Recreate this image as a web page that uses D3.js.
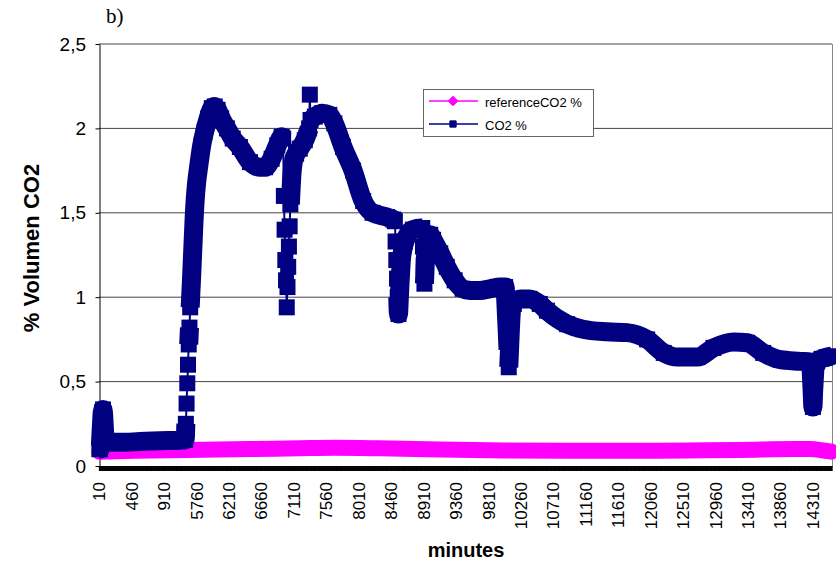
<!DOCTYPE html>
<html><head><meta charset="utf-8">
<script src="https://cdn.jsdelivr.net/npm/d3@7"></script>
<style>body{margin:0;background:#fff} svg{display:block}</style>
</head><body><svg id="c" width="836" height="567"></svg>
<script>
// ---- data ----
const categoryRuns = [[10, 1240], [5650, 14570]];   // minutes recorded (10-min steps, with a gap)
const categoryStep = 10;
const tickLabels = ["10","460","910","5760","6210","6660","7110","7560","8010","8460","8910","9360","9810","10260","10710","11160","11610","12060","12510","12960","13410","13860","14310"];
const yTicks = [0, 0.5, 1, 1.5, 2, 2.5];
const yTickLabels = ["0","0,5","1","1,5","2","2,5"];
const seriesNames = ["referenceCO2 %", "CO2 %"];

const co2Minutes = [10,20,30,40,50,60,70,80,90,110,300,570,850,1130,1200,
  1210,1220,1230,1240,5650,5660,5670,5680,5690,5700,5710,5720,5740,5760,5790,5830,5870,5920,5970,6010,6050,6100,6180,6260,6360,6500,6640,6710,6800,6880,6940,6960,
  6970,6980,6990,7000,7010,7020,7030,7040,7050,7060,7070,7080,7100,7140,7190,7260,7320,7330,7340,7400,7500,7600,7670,7790,7930,8070,8200,8400,8490,8510,
  8520,8530,8540,8550,8560,8570,8580,8590,8600,8620,8650,8700,8760,8880,8890,8900,8910,8920,8930,8940,8960,9000,9040,9140,9230,9340,9450,9550,9690,9830,9970,10040,
  10050,10060,10070,10080,10090,10100,10110,10120,10130,10160,10250,10380,10520,10620,10900,11120,11450,11730,12010,12240,12430,12710,12930,13210,13400,13620,13860,14140,14280,
  14290,14300,14310,14320,14330,14340,14370,14430,14500,14570];
const co2Values = [0.10,0.10,0.17,0.25,0.32,0.335,0.30,0.22,0.16,0.14,0.14,0.145,0.15,0.153,0.155,
  0.25,0.37,0.49,0.60,0.72,0.82,0.94,1.03,1.12,1.22,1.32,1.42,1.58,1.68,1.78,1.90,1.98,2.06,2.12,2.13,2.11,2.06,2.00,1.94,1.89,1.80,1.77,1.77,1.82,1.90,1.95,1.94,
  1.60,1.40,1.22,1.10,0.94,1.06,1.18,1.30,1.42,1.55,1.64,1.72,1.80,1.85,1.88,1.93,2.00,2.20,2.05,2.07,2.09,2.08,2.03,1.89,1.75,1.57,1.50,1.475,1.46,1.45,
  1.33,1.22,1.11,1.00,0.90,0.98,1.07,1.15,1.22,1.28,1.33,1.38,1.40,1.41,1.41,1.30,1.19,1.08,1.18,1.28,1.35,1.37,1.34,1.26,1.18,1.10,1.05,1.04,1.04,1.05,1.06,1.06,
  0.97,0.88,0.79,0.69,0.585,0.68,0.78,0.87,0.93,0.96,0.99,0.99,0.96,0.92,0.84,0.81,0.795,0.79,0.75,0.67,0.645,0.645,0.70,0.735,0.73,0.67,0.63,0.62,0.615,
  0.53,0.44,0.35,0.44,0.52,0.58,0.62,0.635,0.645,0.65];

const refMinutes = [10,500,1240,6500,7190,7670,8300,9140,10040,10900,11730,12560,13300,14060,14270,14480,14570];
const refValues  = [0.085,0.09,0.095,0.10,0.105,0.108,0.105,0.098,0.092,0.09,0.09,0.092,0.095,0.10,0.10,0.09,0.085];

// ---- chart ----
const categories = categoryRuns.flatMap(([a, b]) => d3.range(a, b + 1, categoryStep));
const svg = d3.select("#c");
const x = d3.scaleBand().domain(categories).range([99, 832]).padding(0);
const cx = m => x(m) + x.bandwidth() / 2;
const y = d3.scaleLinear().domain([0, 2.5]).range([466, 44]);
const NAVY = "#000080", MAG = "#FF00FF";
const font = "Arial, 'Liberation Sans', sans-serif";

// gridlines
svg.append("g").selectAll("line").data(yTicks.filter(t => t > 0)).join("line")
  .attr("x1", 99).attr("x2", 832).attr("y1", d => y(d)).attr("y2", d => y(d))
  .attr("stroke", "#444").attr("stroke-width", 1);
// right border
svg.append("line").attr("x1", 832.5).attr("x2", 832.5).attr("y1", 44).attr("y2", 471)
  .attr("stroke", "#888");

// x axis with a tick at every category
const xAxis = svg.append("g").attr("transform", "translate(0,466)")
  .call(d3.axisBottom(x).tickValues(categories).tickSize(5).tickSizeOuter(0).tickFormat(""));
xAxis.selectAll("line").attr("stroke", "#000").attr("stroke-width", 1.3);
xAxis.select(".domain").attr("stroke", "#000");

// x tick labels
svg.append("g").selectAll("text").data(tickLabels).join("text")
  .attr("transform", d => `translate(${cx(+d)},482) rotate(-90)`)
  .attr("text-anchor", "end").attr("dy", "0.35em")
  .attr("font-family", font).attr("font-size", 17).text(d => d);

// y axis
const yAxis = svg.append("g").attr("transform", "translate(99.5,0)")
  .call(d3.axisLeft(y).tickValues(yTicks).tickSize(4).tickSizeOuter(0).tickFormat(""));
yAxis.selectAll("line,path").attr("stroke", "#000");
svg.append("g").selectAll("text").data(yTicks).join("text")
  .attr("x", 86).attr("y", d => y(d)).attr("dy", "0.35em").attr("text-anchor", "end")
  .attr("font-family", font).attr("font-size", 19).text((d, i) => yTickLabels[i]);

// titles
svg.append("text").attr("transform", "translate(31,248) rotate(-90)").attr("dy", "0.35em")
  .attr("text-anchor", "middle").attr("font-family", font).attr("font-weight", "bold")
  .attr("font-size", 22).text("% Volumen CO2");
svg.append("text").attr("x", 466).attr("y", 557).attr("text-anchor", "middle")
  .attr("font-family", font).attr("font-weight", "bold").attr("font-size", 20).text("minutes");
svg.append("text").attr("x", 106).attr("y", 22.5).attr("font-family", "'Times New Roman','Liberation Serif',serif")
  .attr("font-size", 21).text("b)");

// reference series
const refPts = refMinutes.map((m, i) => [cx(m), y(refValues[i])]);
svg.append("path").attr("d", d3.line().curve(d3.curveMonotoneX)(refPts))
  .attr("fill", "none").attr("stroke", MAG).attr("stroke-width", 16).attr("stroke-linecap", "round");

// CO2 series: dense markers form a band; single-step jumps show separate markers
const MS = 16, BAND = 19;
const pts = co2Minutes.map((m, i) => ({m, idx: categories.indexOf(m), px: cx(m), py: y(co2Values[i])}));
const runs = []; let cur = [pts[0]];
for (let i = 1; i < pts.length; i++) {
  const a = pts[i - 1], b = pts[i];
  const jump = (b.idx - a.idx === 1) && Math.abs(b.py - a.py) > 17;
  if (jump) { runs.push(cur); cur = [b]; } else cur.push(b);
}
runs.push(cur);
const g = svg.append("g");
g.append("path").attr("d", d3.line().x(d => d.px).y(d => d.py)(pts))
  .attr("fill", "none").attr("stroke", NAVY).attr("stroke-width", 2);
g.selectAll("rect").data(pts).join("rect")
  .attr("x", d => d.px - MS / 2).attr("y", d => d.py - MS / 2)
  .attr("width", MS).attr("height", MS).attr("fill", NAVY);
runs.filter(r => r.length > 1).forEach(r => {
  g.append("path").attr("d", d3.line().x(d => d.px).y(d => d.py).curve(d3.curveMonotoneX)(r))
    .attr("fill", "none").attr("stroke", NAVY).attr("stroke-width", BAND)
    .attr("stroke-linejoin", "round").attr("stroke-linecap", "butt");
});

// legend
const lg = svg.append("g");
lg.append("rect").attr("x", 423.5).attr("y", 89.5).attr("width", 170).attr("height", 47)
  .attr("fill", "#fff").attr("stroke", "#666");
[[101, MAG, "diamond"], [124, NAVY, "square"]].forEach(([ly, col, shape], i) => {
  lg.append("line").attr("x1", 429).attr("x2", 478).attr("y1", ly).attr("y2", ly)
    .attr("stroke", col).attr("stroke-width", 1.5);
  lg.append("path").attr("transform", `translate(453,${ly})`)
    .attr("d", d3.symbol(shape === "diamond" ? d3.symbolDiamond2 : d3.symbolSquare2, shape === "diamond" ? 60 : 50)())
    .attr("fill", col).attr("stroke", col);
  lg.append("text").attr("x", 485).attr("y", ly + 5.5).attr("font-family", font)
    .attr("font-size", 13).text(seriesNames[i]);
});
</script></body></html>
